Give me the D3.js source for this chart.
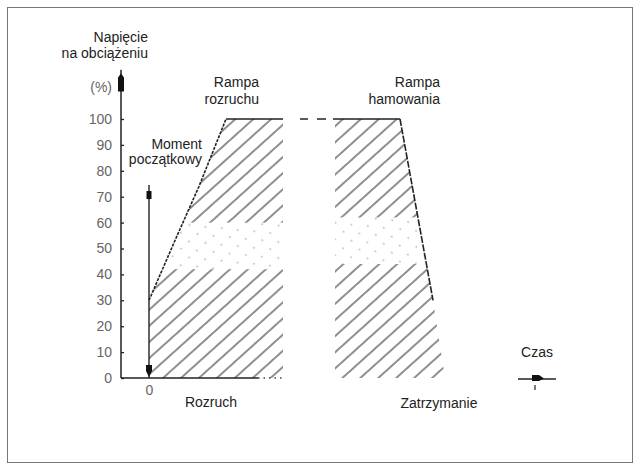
<!DOCTYPE html>
<html>
<head>
<meta charset="utf-8">
<script src="https://cdn.jsdelivr.net/npm/d3@7"></script>
<style>
body { margin: 0; background: #fff; }
text { font-family: "Liberation Sans", Arial, sans-serif; font-size: 14px; fill: #222; }
</style>
</head>
<body>
<div id="plot"></div>
<script>
// values: time in arbitrary units, voltage in %
var pctTicks = [0, 10, 20, 30, 40, 50, 60, 70, 80, 90, 100];
var timeTicks = [0];
var rampUp = [[0, 30], [1.35, 54], [2.5, 74], [3.85, 100]];
var runSolid = [3.85, 6.7];
var runDashes = [[7.55, 7.95], [8.4, 8.85]];
var brakeSolid = [9.2, 12.55];
var rampDown = [[12.55, 100], [14.2, 30]];
var brakeTail = [14.8, 0];
var brakeHatchStart = 9.3;
var startMoment = [0, 74.5];
var fadeStart = [42, 60];
var fadeBrake = [44, 62];

var width = 640, height = 470;
var svg = d3.select("#plot").append("svg").attr("width", width).attr("height", height);

var x = d3.scaleLinear().domain([-1.4, 20.6]).range([121, 561]);
var y = d3.scaleLinear().domain([0, 100]).range([378, 119]);

svg.append("rect").attr("x", 7.5).attr("y", 7.5).attr("width", 625).attr("height", 455)
	.attr("fill", "none").attr("stroke", "#777").attr("stroke-width", 1);

var defs = svg.append("defs");
function hatch(id, dash) {
	var p = defs.append("pattern").attr("id", id).attr("patternUnits", "userSpaceOnUse")
		.attr("width", 22).attr("height", 12).attr("patternTransform", "rotate(-42)");
	p.append("line").attr("x1", 0).attr("x2", 22).attr("y1", 6).attr("y2", 6)
		.attr("stroke", "#333").attr("stroke-width", 1.1)
		.attr("stroke-dasharray", dash);
}
hatch("hatchSolid", null);
hatch("hatchDots", "1.5 10");

var line = d3.line().x(function(d) { return x(d[0]); }).y(function(d) { return y(d[1]); });

var startArea = [[0, 0]].concat(rampUp).concat([[runSolid[1], 100], [runSolid[1], 0]]);
var brakeArea = [[brakeHatchStart, 0], [brakeHatchStart, 100]].concat(rampDown).concat([brakeTail]);

function hatchRegion(pts, fade, key) {
	defs.append("clipPath").attr("id", "clip" + key)
		.append("path").attr("d", line(pts) + "Z");
	var g = svg.append("g").attr("clip-path", "url(#clip" + key + ")");
	// solid hatching outside the faded band, sparse dots inside it
	var mask = defs.append("mask").attr("id", "mask" + key);
	mask.append("rect").attr("width", width).attr("height", height).attr("fill", "#fff");
	mask.append("rect").attr("x", 0).attr("width", width)
		.attr("y", y(fade[1])).attr("height", y(fade[0]) - y(fade[1])).attr("fill", "#000");
	g.append("rect").attr("width", width).attr("height", height)
		.attr("fill", "url(#hatchSolid)").attr("mask", "url(#mask" + key + ")");
	g.append("rect").attr("x", 0).attr("width", width)
		.attr("y", y(fade[1])).attr("height", y(fade[0]) - y(fade[1]))
		.attr("fill", "url(#hatchDots)").attr("opacity", 0.6);
}
hatchRegion(startArea, fadeStart, "Start");
hatchRegion(brakeArea, fadeBrake, "Brake");

// ramps and plateau
svg.append("path").attr("d", line(rampUp)).attr("fill", "none").attr("stroke", "#222")
	.attr("stroke-width", 1.6).attr("stroke-dasharray", "3 1.2");
svg.append("path").attr("d", line(rampDown)).attr("fill", "none").attr("stroke", "#222")
	.attr("stroke-width", 1.6).attr("stroke-dasharray", "7 1.5");
svg.append("line").attr("x1", x(runSolid[0])).attr("x2", x(runSolid[1]))
	.attr("y1", y(100)).attr("y2", y(100)).attr("stroke", "#222").attr("stroke-width", 1.5);
svg.append("line").attr("x1", x(brakeSolid[0])).attr("x2", x(brakeSolid[1]))
	.attr("y1", y(100)).attr("y2", y(100)).attr("stroke", "#222").attr("stroke-width", 1.5);
svg.selectAll(".dash").data(runDashes).enter().append("line").attr("class", "dash")
	.attr("x1", function(d) { return x(d[0]); }).attr("x2", function(d) { return x(d[1]); })
	.attr("y1", y(100)).attr("y2", y(100)).attr("stroke", "#222").attr("stroke-width", 1.5);

// y axis
var yAxis = d3.axisLeft(y).tickValues(pctTicks).tickSize(-3).tickPadding(9);
var gy = svg.append("g").attr("transform", "translate(" + x(-1.4) + ",0)").call(yAxis);
gy.select(".domain").remove();
gy.selectAll("line").attr("stroke", "#222").attr("stroke-width", 1.3);
gy.selectAll("text").style("font-size", "14px").style("fill", "#666");
svg.append("line").attr("x1", x(-1.4)).attr("x2", x(-1.4)).attr("y1", y(0)).attr("y2", y(119))
	.attr("stroke", "#222").attr("stroke-width", 1.5);
svg.append("path").attr("d", "M" + (x(-1.4) - 3) + "," + y(116) + "l3,-4l3,4v14h-6z").attr("fill", "#111");
svg.append("text").attr("x", 112).attr("y", 92).attr("text-anchor", "end").style("fill", "#666").text("(%)");

// x axis
var xAxis = d3.axisBottom(x).tickValues(timeTicks).tickSize(0).tickPadding(7);
var gx = svg.append("g").attr("transform", "translate(0," + y(0) + ")").call(xAxis);
gx.select(".domain").remove();
gx.selectAll("text").style("font-size", "14px").style("fill", "#666");
svg.append("line").attr("x1", x(-1.4)).attr("x2", x(5.45)).attr("y1", y(0)).attr("y2", y(0))
	.attr("stroke", "#222").attr("stroke-width", 1.5);
svg.append("line").attr("x1", x(5.45)).attr("x2", x(6.8)).attr("y1", y(0)).attr("y2", y(0))
	.attr("stroke", "#444").attr("stroke-width", 1.5).attr("stroke-dasharray", "1.5 4");

// starting moment arrow
svg.append("line").attr("x1", x(0)).attr("x2", x(0)).attr("y1", y(startMoment[0])).attr("y2", y(startMoment[1]))
	.attr("stroke", "#222").attr("stroke-width", 1.4);
svg.append("rect").attr("x", x(0) - 2.5).attr("y", y(startMoment[1]) + 6).attr("width", 5).attr("height", 8).attr("fill", "#111");
svg.append("path").attr("d", "M" + (x(0) - 3) + "," + (y(0) - 13) + "h6v6l-3,6l-3,-6z").attr("fill", "#111");

// time arrow
var czas = [18.45, 20.35];
svg.append("line").attr("x1", x(czas[0])).attr("x2", x(czas[1])).attr("y1", y(0) + 1).attr("y2", y(0) + 1)
	.attr("stroke", "#222").attr("stroke-width", 1.4);
svg.append("path").attr("d", "M" + x(19.15) + "," + (y(0) - 3) + "h7l5,3.5l-5,2.5h-7z").attr("fill", "#111");
svg.append("line").attr("x1", x(19.3)).attr("x2", x(19.3)).attr("y1", y(0) + 7).attr("y2", y(0) + 12)
	.attr("stroke", "#444").attr("stroke-width", 1.4);

var labels = [
	{t: "Napięcie", x: 148, y: 42, a: "end"},
	{t: "na obciążeniu", x: 148, y: 58, a: "end"},
	{t: "Rampa", x: 259, y: 87, a: "end"},
	{t: "rozruchu", x: 259, y: 104, a: "end"},
	{t: "Rampa", x: 440, y: 87, a: "end"},
	{t: "hamowania", x: 440, y: 104, a: "end"},
	{t: "Moment", x: 202, y: 149, a: "end"},
	{t: "początkowy", x: 202, y: 164, a: "end"},
	{t: "Rozruch", x: 211, y: 407, a: "middle"},
	{t: "Zatrzymanie", x: 439, y: 408, a: "middle"},
	{t: "Czas", x: 537, y: 357, a: "middle"}
];
svg.selectAll(".lbl").data(labels).enter().append("text").attr("class", "lbl")
	.attr("x", function(d) { return d.x; }).attr("y", function(d) { return d.y; })
	.attr("text-anchor", function(d) { return d.a; })
	.text(function(d) { return d.t; });
</script>
</body>
</html>
